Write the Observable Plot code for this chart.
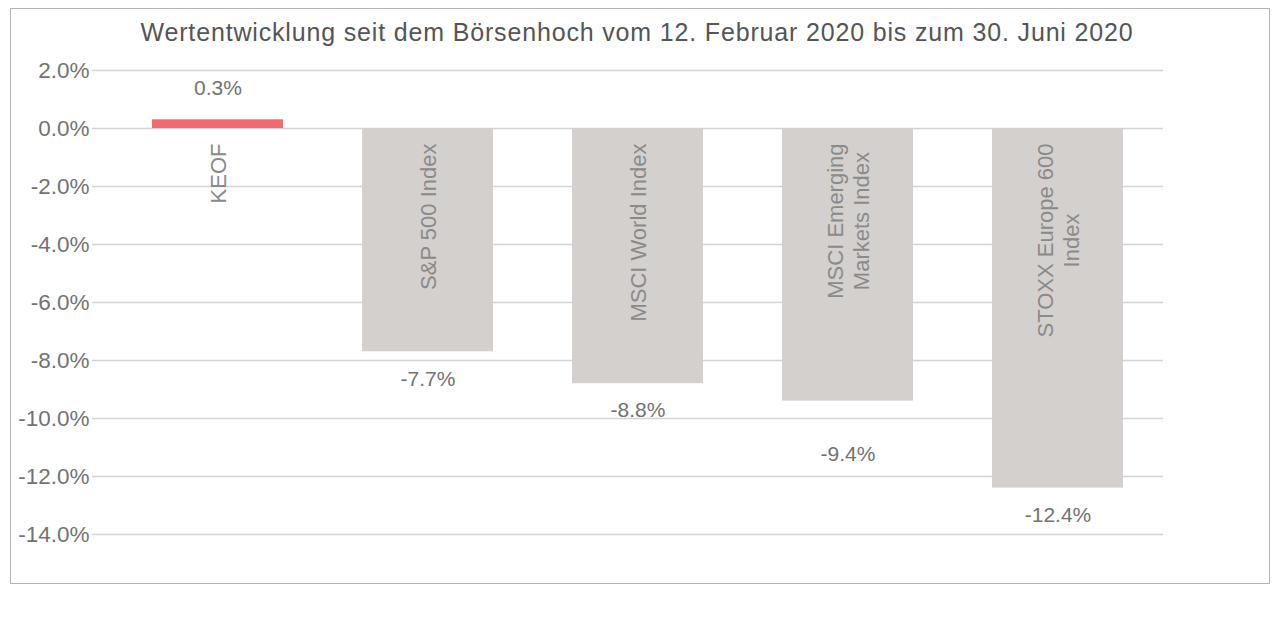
<!DOCTYPE html>
<html>
<head>
<meta charset="utf-8">
<script src="https://cdn.jsdelivr.net/npm/d3@7"></script>
<script src="https://cdn.jsdelivr.net/npm/@observablehq/plot@0.6"></script>
<style>
  html, body { margin: 0; padding: 0; background: #fff; }
  body { width: 1280px; height: 627px; position: relative; overflow: hidden; font-family: "Liberation Sans", Arial, sans-serif; }
  #frame { position: absolute; left: 10px; top: 8px; width: 1258px; height: 574px; border: 1px solid #b4b4b4; box-sizing: content-box; }
  #title { position: absolute; left: 0; top: 20px; width: 1274px; text-align: center; font-size: 25px; line-height: 1; color: #555; white-space: nowrap; }
  #title span { display: inline-block; }
  #chart { position: absolute; left: 0; top: 58px; }
</style>
</head>
<body>
<div id="frame"></div>
<div id="title"><span id="tt">Wertentwicklung seit dem Börsenhoch vom 12. Februar 2020 bis zum 30. Juni 2020</span></div>
<div id="chart"></div>
<script>
const names = ["KEOF", "S&P 500 Index", "MSCI World Index", "MSCI Emerging\nMarkets Index", "STOXX Europe 600\nIndex"];
const values = [0.3, -7.7, -8.8, -9.4, -12.4];
const yTicks = [2, 0, -2, -4, -6, -8, -10, -12, -14];

const data = names.map((name, i) => ({name, value: values[i], i}));
const fmt = v => v.toFixed(1) + "%";

const chart = Plot.plot({
  width: 1280,
  height: 496,
  marginLeft: 92,
  marginRight: 117,
  marginTop: 12,
  marginBottom: 20,
  style: {fontFamily: "'Liberation Sans', Arial, sans-serif", background: "transparent"},
  x: {domain: names, paddingInner: 0.375, paddingOuter: 0.2375, align: 0.6, axis: null},
  y: {domain: [-14, 2], ticks: yTicks, tickFormat: fmt, tickSize: 0, tickPadding: 3, label: null},
  marks: [
    Plot.ruleY(yTicks, {stroke: "#d4d4d4", strokeWidth: 1.5}),
    Plot.axisY({ticks: yTicks, tickFormat: fmt, tickSize: 0, tickPadding: 3, fontSize: 22.5, fill: "#727272", label: null}),
    Plot.barY(data, {x: "name", y: "value", fill: d => d.value >= 0 ? "#f26a6e" : "#d4d0ce"}),
    Plot.text(data, {x: "name", y: 0, text: "name", rotate: -90, textAnchor: "end", lineAnchor: "middle", lineHeight: 1.18, dy: 15, fontSize: 22, fill: "#8a8a8a", className: "catlab"}),
    Plot.text(data.filter(d => d.value >= 0), {x: "name", y: "value", text: d => fmt(d.value), dy: -32, fontSize: 21, fill: "#727272"}),
    Plot.text(data.filter(d => d.value < 0 && d.i !== 3), {x: "name", y: "value", text: d => fmt(d.value), dy: 27, fontSize: 21, fill: "#727272"}),
    Plot.text(data.filter(d => d.i === 3), {x: "name", y: "value", text: d => fmt(d.value), dy: 53, fontSize: 21, fill: "#727272"})
  ]
});
document.getElementById("chart").appendChild(chart);

// center-align multi-line category labels relative to the first line
chart.querySelectorAll("g.catlab text").forEach(t => {
  const spans = t.querySelectorAll("tspan");
  if (spans.length > 1) {
    const w = spans[0].getComputedTextLength();
    spans.forEach(s => { s.setAttribute("text-anchor", "middle"); s.setAttribute("x", (-w / 2).toFixed(1)); });
  }
});

// fit title width to reference
const tt = document.getElementById("tt");
const target = 993;
const w0 = tt.getBoundingClientRect().width;
const n = tt.textContent.length;
tt.style.letterSpacing = ((target - w0) / n).toFixed(3) + "px";
</script>
</body>
</html>
